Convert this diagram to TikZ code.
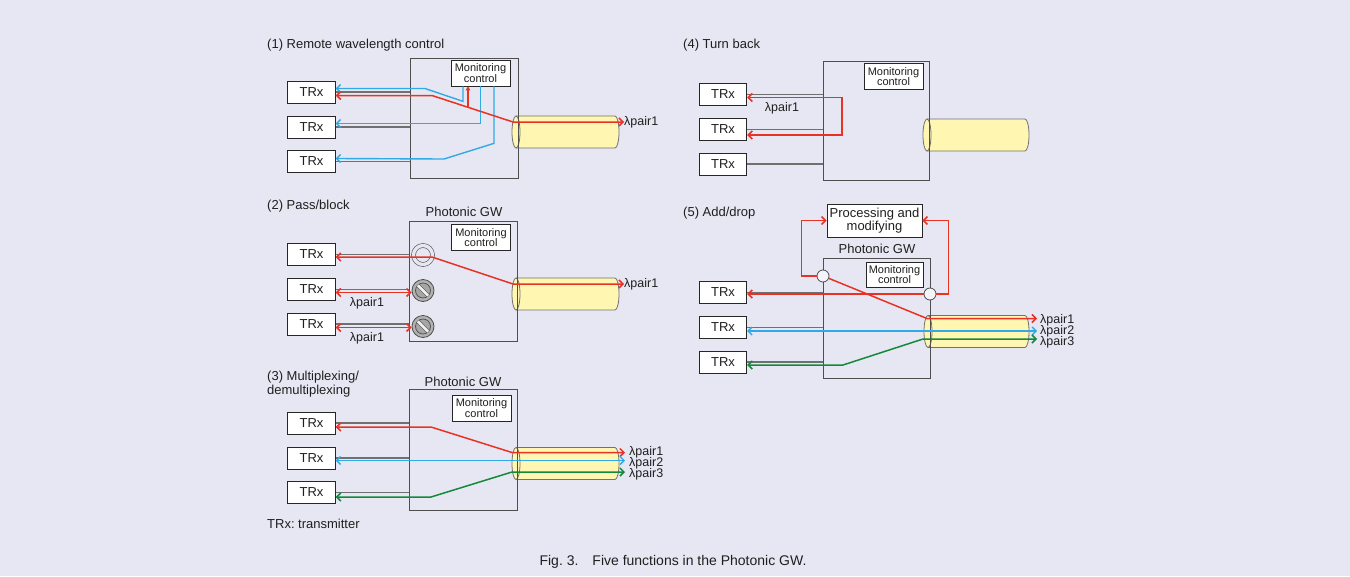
\documentclass[tikz,border=0pt]{standalone}
\usepackage{fontspec}
\setmainfont{Liberation Sans}
\usetikzlibrary{arrows.meta,positioning}
\frenchspacing

\definecolor{bgcol}{RGB}{231,231,243}
\definecolor{redc}{RGB}{232,50,36}
\definecolor{bluec}{RGB}{48,170,230}
\definecolor{greenc}{RGB}{18,138,58}
\definecolor{tubec}{RGB}{255,246,178}
\definecolor{framec}{RGB}{78,78,78}
\definecolor{wirec}{RGB}{112,112,112}

\tikzset{
  title/.style={anchor=west, inner sep=0pt, font=\fontsize{13}{14}\selectfont},
  gwtext/.style={inner sep=0pt, font=\fontsize{13}{14}\selectfont},
  lab/.style={anchor=west, inner sep=0pt, font=\fontsize{12.5}{13}\selectfont},
  trx/.style={draw=black!85, fill=white, line width=0.9pt, minimum width=47.5pt,
    minimum height=22pt, inner sep=0pt, font=\fontsize{13}{14}\selectfont},
  gwbox/.style={draw=framec, line width=0.8pt, minimum width=108pt,
    minimum height=120pt, inner sep=0pt},
  mon/.style={draw=black!85, fill=white, line width=0.7pt, minimum width=59pt,
    minimum height=26pt, inner sep=0pt, align=center,
    font=\fontsize{11}{10.5}\selectfont},
  procbox/.style={draw=black!85, fill=white, line width=0.8pt, minimum width=95pt,
    minimum height=33pt, inner sep=0pt, align=center,
    font=\fontsize{13}{13.5}\selectfont},
  passc/.style={circle, draw=framec, double=bgcol, double distance=3.4pt,
    line width=0.6pt, fill=bgcol, minimum size=19pt, inner sep=0pt},
  blockc/.style={circle, draw=framec, fill=gray!60, line width=0.8pt,
    minimum size=22pt, inner sep=0pt,
    path picture={
      \draw[framec, fill=gray!70, line width=0.7pt]
        (path picture bounding box.center) circle[radius=7.5pt];
      \draw[framec, double=gray!12, double distance=2.6pt, line width=0.6pt]
        ([shift={(-5.2pt,5.2pt)}]path picture bounding box.center)
        -- ([shift={(5.2pt,-5.2pt)}]path picture bounding box.center);}},
  swc/.style={circle, draw=framec, fill=white!55!bgcol, line width=0.8pt,
    minimum size=12pt, inner sep=0pt},
  wire/.style={draw=wirec, line width=1.5pt},
  redl/.style={draw=redc, line width=1.5pt},
  bluel/.style={draw=bluec, line width=1.4pt},
  greenl/.style={draw=greenc, line width=1.5pt},
  tubeline/.style={draw=framec!80, line width=0.8pt}
}

\begin{document}
\begin{tikzpicture}[x=1pt,y=-1pt,>={Straight Barb[length=4pt,width=8pt]},
  text=black!88]
  \useasboundingbox[fill=bgcol] (0,0) rectangle (1350,576);

  % Fibre cylinders first, boxes go on top
  \foreach \xl/\xr/\yc in {516/615/132, 516/615/294, 516/615/463.5,
                           927/1025/135, 928/1025/331.5}{
    \fill[tubec] (\xl,\yc-16) -- (\xr,\yc-16)
      arc[start angle=90,end angle=-90,x radius=4pt,y radius=16pt]
      -- (\xl,\yc+16)
      arc[start angle=270,end angle=90,x radius=4pt,y radius=16pt] -- cycle;
    \draw[tubeline] (\xl,\yc-16) -- (\xr,\yc-16)
      arc[start angle=90,end angle=-90,x radius=4pt,y radius=16pt]
      -- (\xl,\yc+16);
    \draw[tubeline] (\xl,\yc) ellipse[x radius=4pt,y radius=16pt];
  }

  % Define the gateway boxes
  \node[gwbox] (g1) at (464,118) {};
  \node[gwbox] (g2) at (463.5,281) {};
  \node[gwbox, minimum height=121pt] (g3) at (463,449.5) {};
  \node[gwbox, minimum width=106pt, minimum height=119pt] (g4) at (876,120.5) {};
  \node[gwbox, minimum width=107pt] (g5) at (876.5,318) {};

  % Three transmitters per panel, wired to the gateway
  \foreach \n/\x/\y in {1/311.5/92, 2/311.5/254.5, 3/311.5/423,
                        4/723/94.5, 5/723/292.5}{
    \node[trx] (t\n a) at (\x,\y) {TRx};
    \node[trx] (t\n b) at (\x,\y+35) {TRx};
    \node[trx] (t\n c) at (\x,\y+69.5) {TRx};
    \draw[wire] (t\n a.east) -- (t\n a.east -| g\n.west);
    \draw[wire] (t\n b.east) -- (t\n b.east -| g\n.west);
    \draw[wire] (t\n c.east) -- (t\n c.east -| g\n.west);
  }

  % (1) Remote wavelength control
  \node[title] (h1) at (267,45) {(1) Remote wavelength control};
  \node[mon] (m1) at (480.5,73) {Monitoring\\control};
  \node[lab] (l1) at (624,122) {λpair1};
  \draw[bluel,->] ([xshift=-17.5pt]m1.south) -- ++(0,15) -- (425,88.5)
    -- ([yshift=3.5pt]t1a.east);
  \draw[bluel,->] (m1.south) |- ([yshift=3.5pt]t1b.east);
  \draw[bluel,->] ([xshift=13.5pt]m1.south) -- ++(0,57) -- (444,159)
    -- ([yshift=3pt]t1c.east);
  \draw[redl,<->] ([yshift=-3.5pt]t1a.east) -- (432,95.5) -- (513,122) -- (l1.west);
  \coordinate (r1) at (468,107.3);
  \draw[redl,-{Triangle[length=4pt,width=4.5pt]}] (r1) -- (r1 |- m1.south);

  % (2) Pass/block
  \node[title] (h2) at (267,206) {(2) Pass/block};
  \node[gwtext] (pg2) at (464,212) {Photonic GW};
  \node[mon] (m2) at (481,237.5) {Monitoring\\control};
  \node[passc] (s2a) at (423,255) {};
  \node[blockc] (s2b) at (423,290.5) {};
  \node[blockc] (s2c) at (423,326.5) {};
  \node[lab] (l2) at (624,284) {λpair1};
  \node[lab, anchor=center] (q2b) at (367,303) {λpair1};
  \node[lab, anchor=center] (q2c) at (367,338) {λpair1};
  \draw[redl,<->] ([yshift=-3pt]t2b.east) -- ([yshift=-3pt]t2b.east -| s2b.west);
  \draw[redl,<->] ([yshift=-3.5pt]t2c.east) -- ([yshift=-3.5pt]t2c.east -| s2c.west);
  \draw[redl,<->] ([yshift=-2.5pt]t2a.east) -- (432,257) -- (513,284) -- (l2.west);

  % (3) Multiplexing/demultiplexing
  \node[title, align=left] (h3) at (267,384) {(3) Multiplexing/\\demultiplexing};
  \node[gwtext] (pg3) at (463,382) {Photonic GW};
  \node[mon] (m3) at (481.5,408) {Monitoring\\control};
  \coordinate (e3a) at (625,452.5);
  \coordinate (e3b) at (625,460.5);
  \coordinate (e3c) at (625,472);
  \node[lab] (l3a) at (629,452) {λpair1};
  \node[lab] (l3b) at (629,463) {λpair2};
  \node[lab] (l3c) at (629,474) {λpair3};
  \draw[redl,<->] ([yshift=-4pt]t3a.east) -- (431,427) -- (512,452.5) -- (e3a);
  \draw[bluel,<->] ([yshift=-2.5pt]t3b.east) -- (e3b);
  \draw[greenl,<->] ([yshift=-4.5pt]t3c.east) -- (431,497) -- (512,472) -- (e3c);
  \node[title] (note) at (267,524) {TRx: transmitter};

  % (4) Turn back
  \node[title] (h4) at (683,45) {(4) Turn back};
  \node[mon] (m4) at (893.5,76.5) {Monitoring\\control};
  \node[lab, anchor=center] (q4) at (782,108) {λpair1};
  \draw[redl,<->] ([yshift=-3pt]t4a.east) -| (842,116) |- ([yshift=-5.5pt]t4b.east);

  % (5) Add/drop
  \node[title] (h5) at (683,213) {(5) Add/drop};
  \node[procbox] (p5) at (874.5,220.5) {Processing and\\modifying};
  \node[gwtext] (pg5) at (877,249) {Photonic GW};
  \node[mon, minimum width=57pt, minimum height=25pt] (m5) at (894.5,274.5) {Monitoring\\control};
  \node[swc] (s5a) at (823,276) {};
  \node[swc] (s5b) at (930,294) {};
  \coordinate (e5a) at (1037,318.5);
  \coordinate (e5b) at (1037,331);
  \coordinate (e5c) at (1037,339);
  \node[lab] (l5a) at (1040,320) {λpair1};
  \node[lab] (l5b) at (1040,331) {λpair2};
  \node[lab] (l5c) at (1040,342) {λpair3};
  \draw[redl,->] (s5a.west) -| ([xshift=-25pt]p5.west) -- (p5.west);
  \draw[redl,->] (s5b.east) -| ([xshift=26pt]p5.east) -- (p5.east);
  \draw[redl,->] (s5b.west) -- ([yshift=-1.5pt]t5a.east);
  \draw[redl,->] (s5a.-22) -- (927,318.5) -- (e5a);
  \draw[bluel,<->] ([yshift=-3.5pt]t5b.east) -- (e5b);
  \draw[greenl,<->] ([yshift=-3pt]t5c.east) -- (843,365) -- (923,339) -- (e5c);

  % Caption
  \node[font=\fontsize{14}{16}\selectfont] (cap) at (673,562)
    {Fig. 3.\quad Five functions in the Photonic GW.};

\end{tikzpicture}
\end{document}
